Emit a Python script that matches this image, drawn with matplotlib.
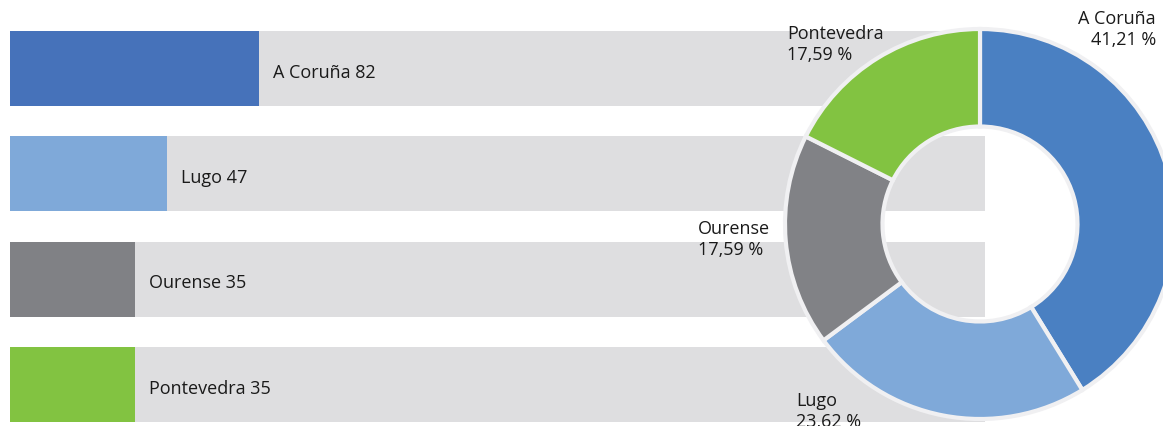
import numpy as np
import matplotlib
matplotlib.use("Agg")
import matplotlib.pyplot as plt

plt.rcParams['font.family'] = ['Open Sans', 'DejaVu Sans']

# datos
provincias = ["A Coruña", "Lugo", "Ourense", "Pontevedra"]
valores = [82, 47, 35, 35]
porcentajes = [41.21, 23.62, 17.59, 17.59]

col_barra = ["#4672BA", "#7FA9D9", "#808185", "#82C341"]
col_donut = ["#4A80C2", "#7FA9D9", "#818286", "#82C341"]
gris = "#DEDEE0"

W, H = 1163, 427
fig = plt.figure(figsize=(W / 100, H / 100), dpi=100)

# barras horizontales
ax = fig.add_axes([10 / W, 4 / H, 975 / W, 391 / H])
base = -12.5
xmax = base + 975 / 2.632
y = np.arange(len(valores))
alto = 0.712
ax.barh(y, xmax - base, left=base, height=alto, color=gris, zorder=1)
ax.barh(y, np.array(valores) - base, left=base, height=alto, color=col_barra, zorder=2)
for i, (p, v) in enumerate(zip(provincias, valores)):
    ax.text(v + 5.5, i + 0.03, f"{p} {v}", va="center", ha="left", fontsize=13, color="#1a1a1a", zorder=3)
ax.set_xlim(base, xmax)
ax.set_ylim(3 + alto / 2, -alto / 2)
ax.axis("off")

# donut en coordenadas de pixel
ax2 = fig.add_axes([0, 0, 1, 1])
ax2.patch.set_alpha(0)
cx, cy, r = 980, H - 225, 195
ax2.pie(porcentajes, colors=col_donut, startangle=90, counterclock=False,
        center=(cx, cy), radius=r, frame=True,
        wedgeprops=dict(width=r * 0.5, edgecolor="#F0F0F2", linewidth=3))
ax2.set_xlim(0, W)
ax2.set_ylim(0, H)
ax2.axis("off")

etiquetas = [
    (1156, H - 10, "right"),
    (796, H - 392, "left"),
    (698, H - 220, "left"),
    (787, H - 25, "left"),
]
for (x, yy, ha), p, pc in zip(etiquetas, provincias, porcentajes):
    txt = f"{p}\n{pc:.2f} %".replace(".", ",")
    ax2.text(x, yy, txt, ha=ha, va="top", fontsize=13, color="#1a1a1a",
             linespacing=1.2, multialignment="right" if ha == "right" else "left")

fig.savefig("out.png", dpi=100)
